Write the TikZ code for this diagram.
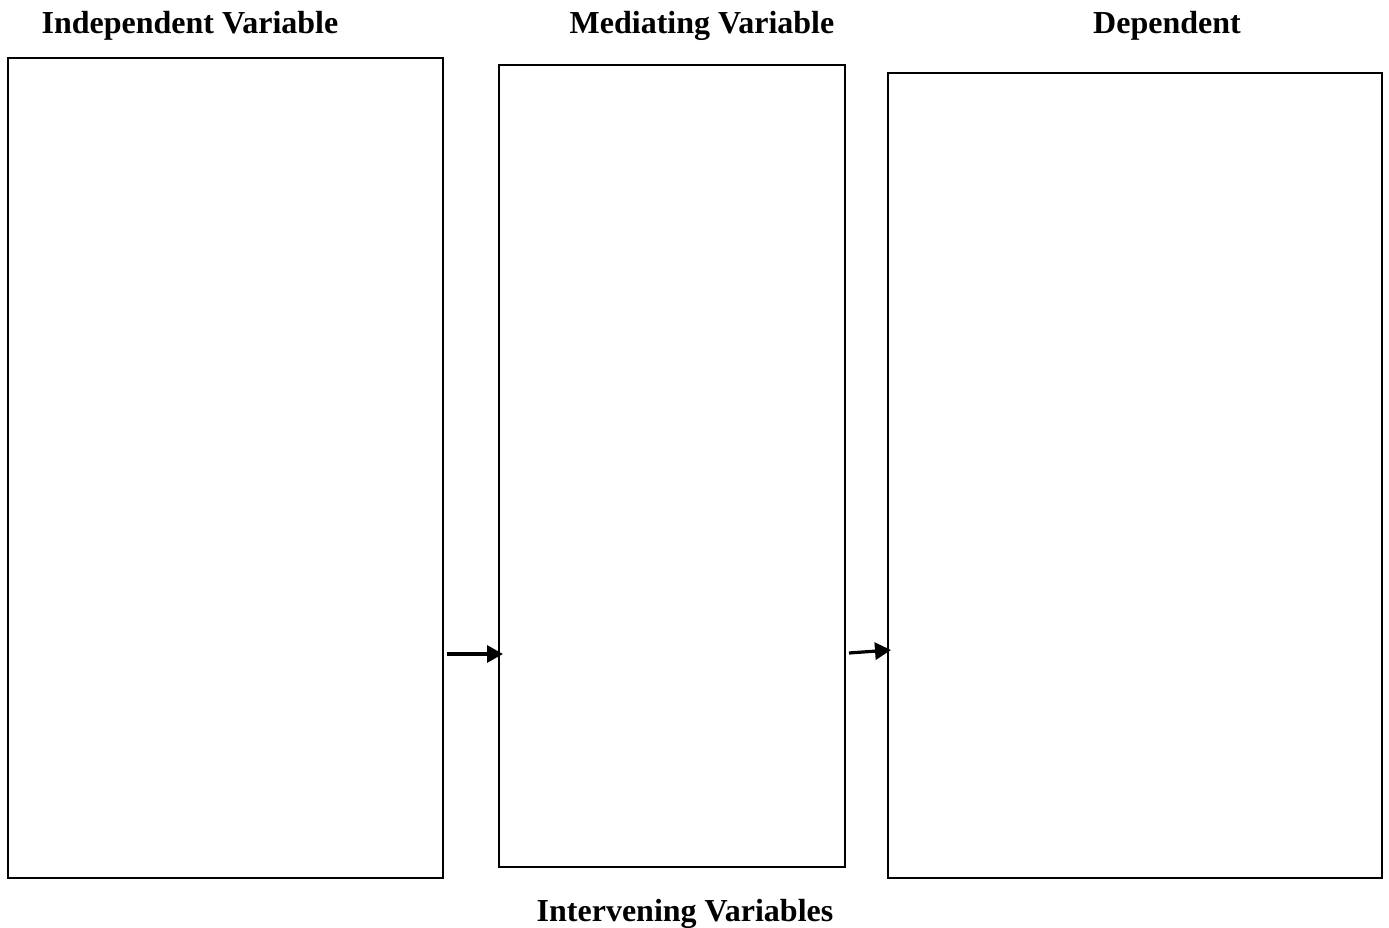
\documentclass[tikz,border=0pt]{standalone}
\usepackage{fontspec}
\setmainfont{Liberation Serif}
\usetikzlibrary{arrows.meta}
\begin{document}
\begin{tikzpicture}[x=1pt,y=-1pt,
  varbox/.style={draw=black, line width=1.1pt, inner sep=0pt},
  title/.style={font=\fontsize{32}{38}\selectfont\bfseries, inner sep=0pt, anchor=base},
  conn/.style={line width=3.2pt, -{Triangle[length=16pt,width=17pt]}}]
\useasboundingbox (0,0) rectangle (1389,927);
\node[varbox, minimum width=435pt, minimum height=820pt] (iv) at (225.5,468) {};
\node[varbox, minimum width=346pt, minimum height=802pt] (mv) at (672,466) {};
\node[varbox, minimum width=494pt, minimum height=805pt] (dv) at (1135,475.5) {};
\node[title] (tiv) at (190,33) {Independent Variable};
\node[title] (tmv) at (702,33) {Mediating Variable};
\node[title] (tdv) at (1167,33) {Dependent};
\node[title] (tint) at (685,921) {Intervening Variables};
\coordinate (a1s) at (447,654);
\coordinate (a1e) at (503,654);
\coordinate (a2s) at (849,653);
\coordinate (a2e) at (891,650);
\draw[conn] (a1s) -- (a1e);
\draw[conn] (a2s) -- (a2e);
\end{tikzpicture}
\end{document}
